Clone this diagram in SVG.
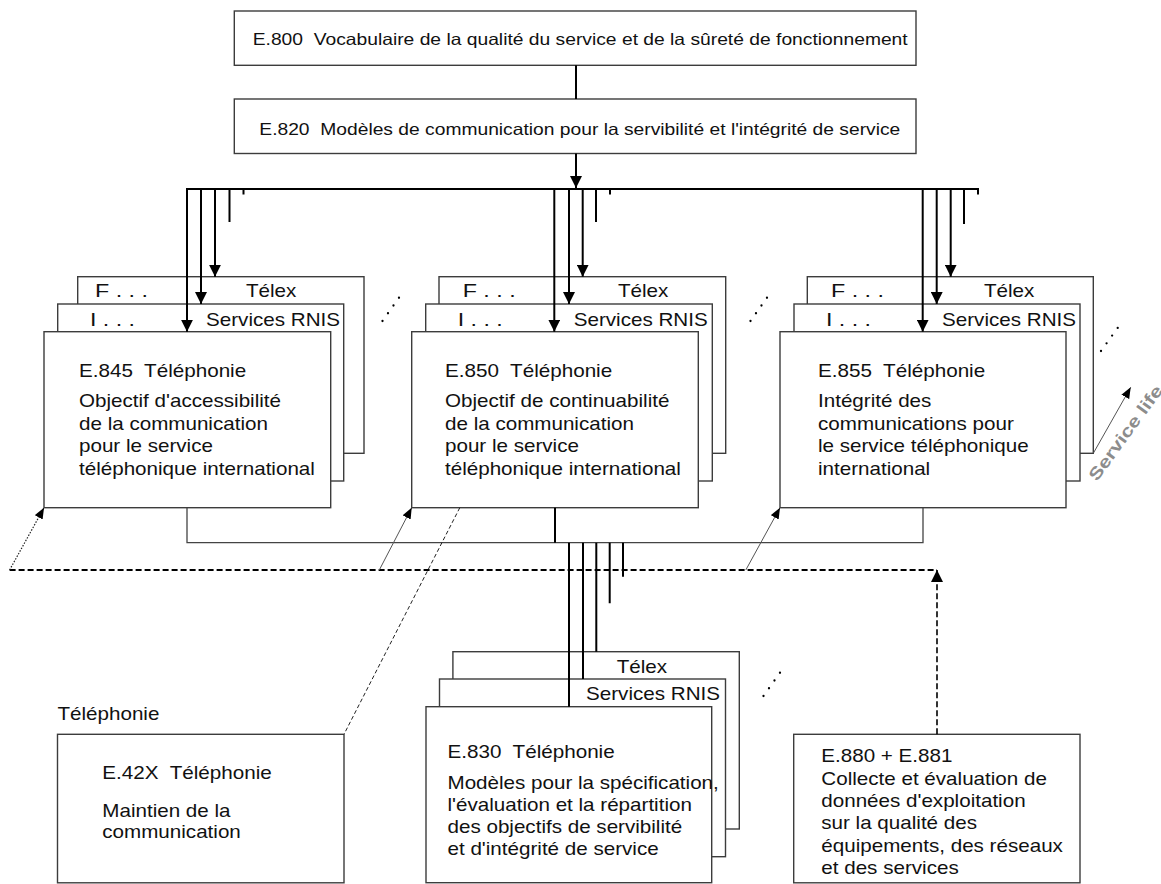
<svg xmlns="http://www.w3.org/2000/svg" width="1161" height="884" viewBox="0 0 1161 884">
<defs>
<style>
.box{fill:#fff;stroke:#3c3c3c;stroke-width:1.4}
text{font-family:"Liberation Sans",Arial,Helvetica,sans-serif;fill:#111;white-space:pre}
.t{font-size:18.5px}
.h{font-size:16.5px}
.k{stroke:#000;stroke-width:2;fill:none}
.n{stroke:#444;stroke-width:1.3;fill:none}
.d{stroke:#000;stroke-width:2;stroke-dasharray:6 3;fill:none}
.dv{stroke:#000;stroke-width:1.6;stroke-dasharray:6 3;fill:none}
.ln{stroke:#555;stroke-width:1;fill:none}
.dt{stroke:#222;stroke-width:1.2;stroke-dasharray:1.5 1.5;fill:none}
.dd{stroke:#222;stroke-width:1;stroke-dasharray:4 2.5;fill:none}
.dots{stroke:#000;stroke-width:2.3;stroke-linecap:round;stroke-dasharray:0 9.5;fill:none}
.sl{font-size:17px;font-weight:bold;fill:#8c8c8c}
</style>
<marker id="a" viewBox="0 0 12 12" refX="12" refY="6" markerWidth="12" markerHeight="12" markerUnits="userSpaceOnUse" orient="auto"><path d="M0,0L12,6L0,12z" fill="#000"/></marker>
<marker id="s" viewBox="0 0 11 9" refX="11" refY="4.5" markerWidth="11" markerHeight="9" markerUnits="userSpaceOnUse" orient="auto"><path d="M0,0L11,4.5L0,9z" fill="#000"/></marker>
</defs>
<g id="e800">
<rect class="box" x="234.3" y="11" width="681.7" height="54.3"/>
<text class="h" x="252.7" y="45" textLength="655" lengthAdjust="spacingAndGlyphs">E.800  Vocabulaire de la qualité du service et de la sûreté de fonctionnement</text>
</g>
<g id="e820">
<rect class="box" x="234.3" y="99" width="681.7" height="54.5"/>
<text class="h" x="259.3" y="135" textLength="641" lengthAdjust="spacingAndGlyphs">E.820  Modèles de communication pour la servibilité et l'intégrité de service</text>
</g>
<g id="e845">
<rect class="box" x="77.7" y="276.7" width="286.3" height="176.6"/>
<rect class="box" x="57.7" y="304" width="286" height="177"/>
<rect class="box" x="44" y="331.7" width="286.7" height="176"/>
<text class="t" x="95" y="297" textLength="53" lengthAdjust="spacingAndGlyphs">F . . .</text>
<text class="t" x="246" y="297" textLength="50.4" lengthAdjust="spacingAndGlyphs">Télex</text>
<text class="t" x="90" y="326" textLength="45" lengthAdjust="spacingAndGlyphs">I . . .</text>
<text class="t" x="206" y="326" textLength="134" lengthAdjust="spacingAndGlyphs">Services RNIS</text>
<text class="t" x="79" y="377" textLength="167.2" lengthAdjust="spacingAndGlyphs">E.845  Téléphonie</text>
<text class="t" x="79" y="407" textLength="202" lengthAdjust="spacingAndGlyphs">Objectif d'accessibilité</text>
<text class="t" x="79" y="429.5" textLength="188.9" lengthAdjust="spacingAndGlyphs">de la communication</text>
<text class="t" x="79" y="452" textLength="133.9" lengthAdjust="spacingAndGlyphs">pour le service</text>
<text class="t" x="79" y="474.5" textLength="235.9" lengthAdjust="spacingAndGlyphs">téléphonique international</text>
</g>
<g id="e850">
<rect class="box" x="439" y="276.7" width="286.7" height="176.6"/>
<rect class="box" x="425.7" y="304" width="286.6" height="177"/>
<rect class="box" x="411.7" y="331.7" width="286.6" height="176"/>
<text class="t" x="462.7" y="297" textLength="53" lengthAdjust="spacingAndGlyphs">F . . .</text>
<text class="t" x="618" y="297" textLength="50.4" lengthAdjust="spacingAndGlyphs">Télex</text>
<text class="t" x="457.7" y="326" textLength="45" lengthAdjust="spacingAndGlyphs">I . . .</text>
<text class="t" x="573.7" y="326" textLength="134" lengthAdjust="spacingAndGlyphs">Services RNIS</text>
<text class="t" x="445" y="377" textLength="167.2" lengthAdjust="spacingAndGlyphs">E.850  Téléphonie</text>
<text class="t" x="445" y="407" textLength="224.4" lengthAdjust="spacingAndGlyphs">Objectif de continuabilité</text>
<text class="t" x="445" y="429.5" textLength="188.9" lengthAdjust="spacingAndGlyphs">de la communication</text>
<text class="t" x="445" y="452" textLength="133.9" lengthAdjust="spacingAndGlyphs">pour le service</text>
<text class="t" x="445" y="474.5" textLength="235.9" lengthAdjust="spacingAndGlyphs">téléphonique international</text>
</g>
<g id="e855">
<rect class="box" x="807.3" y="276.7" width="286" height="176.6"/>
<rect class="box" x="794" y="304" width="286" height="177"/>
<rect class="box" x="780" y="331.7" width="286" height="176"/>
<text class="t" x="831" y="297" textLength="53" lengthAdjust="spacingAndGlyphs">F . . .</text>
<text class="t" x="984" y="297" textLength="50.4" lengthAdjust="spacingAndGlyphs">Télex</text>
<text class="t" x="826" y="326" textLength="45" lengthAdjust="spacingAndGlyphs">I . . .</text>
<text class="t" x="942" y="326" textLength="134" lengthAdjust="spacingAndGlyphs">Services RNIS</text>
<text class="t" x="818" y="377" textLength="167.2" lengthAdjust="spacingAndGlyphs">E.855  Téléphonie</text>
<text class="t" x="818" y="407" textLength="113.4" lengthAdjust="spacingAndGlyphs">Intégrité des</text>
<text class="t" x="818" y="429.5" textLength="195.8" lengthAdjust="spacingAndGlyphs">communications pour</text>
<text class="t" x="818" y="452" textLength="210.7" lengthAdjust="spacingAndGlyphs">le service téléphonique</text>
<text class="t" x="818" y="474.5" textLength="112.2" lengthAdjust="spacingAndGlyphs">international</text>
</g>
<g id="e830">
<rect class="box" x="452.9" y="651.7" width="286.4" height="177.3"/>
<rect class="box" x="439.5" y="679" width="286" height="177.7"/>
<rect class="box" x="426" y="706.7" width="285.7" height="176"/>
<text class="t" x="616.7" y="672.7" textLength="50.4" lengthAdjust="spacingAndGlyphs">Télex</text>
<text class="t" x="586" y="700" textLength="134" lengthAdjust="spacingAndGlyphs">Services RNIS</text>
<text class="t" x="447.5" y="758" textLength="167.2" lengthAdjust="spacingAndGlyphs">E.830  Téléphonie</text>
<text class="t" x="447.5" y="788.5" textLength="271.3" lengthAdjust="spacingAndGlyphs">Modèles pour la spécification,</text>
<text class="t" x="447.5" y="810.5" textLength="244.4" lengthAdjust="spacingAndGlyphs">l'évaluation et la répartition</text>
<text class="t" x="447.5" y="833" textLength="234.7" lengthAdjust="spacingAndGlyphs">des objectifs de servibilité</text>
<text class="t" x="447.5" y="855" textLength="211.2" lengthAdjust="spacingAndGlyphs">et d'intégrité de service</text>
</g>
<g id="e42x">
<text class="t" x="57.5" y="720" textLength="101.9" lengthAdjust="spacingAndGlyphs">Téléphonie</text>
<rect class="box" x="57.5" y="734.3" width="286.5" height="148.5"/>
<text class="t" x="102.3" y="778.5" textLength="169.5" lengthAdjust="spacingAndGlyphs">E.42X  Téléphonie</text>
<text class="t" x="102.3" y="816.7" textLength="128.2" lengthAdjust="spacingAndGlyphs">Maintien de la</text>
<text class="t" x="102.3" y="838.3" textLength="138.5" lengthAdjust="spacingAndGlyphs">communication</text>
</g>
<g id="e880">
<rect class="box" x="793.7" y="734.3" width="286.3" height="148.5"/>
<text class="t" x="821.3" y="761.7" textLength="131.1" lengthAdjust="spacingAndGlyphs">E.880 + E.881</text>
<text class="t" x="821.3" y="785" textLength="225.6" lengthAdjust="spacingAndGlyphs">Collecte et évaluation de</text>
<text class="t" x="821.3" y="807.3" textLength="204.3" lengthAdjust="spacingAndGlyphs">données d'exploitation</text>
<text class="t" x="821.3" y="829.3" textLength="155.7" lengthAdjust="spacingAndGlyphs">sur la qualité des</text>
<text class="t" x="821.3" y="851.7" textLength="241.6" lengthAdjust="spacingAndGlyphs">équipements, des réseaux</text>
<text class="t" x="821.3" y="874" textLength="137.4" lengthAdjust="spacingAndGlyphs">et des services</text>
</g>
<g id="service-life">
<text class="sl" x="1097" y="482" transform="rotate(-54 1097 482)" textLength="113" lengthAdjust="spacingAndGlyphs">Service life</text>
</g>
<g id="connectors">
<path class="k" d="M576,65.3V99"/>
<path class="k" d="M576,153.5V188" marker-end="url(#a)"/>
<path class="k" d="M186,189H979"/>
<path class="k" d="M187,189V331.7" marker-end="url(#a)"/>
<path class="k" d="M201,189V304" marker-end="url(#a)"/>
<path class="k" d="M215,189V276.7" marker-end="url(#a)"/>
<path class="k" d="M229.5,189V222M243.5,189V194.5"/>
<path class="k" d="M554.3,189V331.7" marker-end="url(#a)"/>
<path class="k" d="M569,189V304" marker-end="url(#a)"/>
<path class="k" d="M582.7,189V276.7" marker-end="url(#a)"/>
<path class="k" d="M596,189V222M610,189V194.5"/>
<path class="k" d="M922.7,189V331.7" marker-end="url(#a)"/>
<path class="k" d="M936.7,189V304" marker-end="url(#a)"/>
<path class="k" d="M950.7,189V276.7" marker-end="url(#a)"/>
<path class="k" d="M964,189V224M978,189V194.5"/>
<path class="n" d="M187,507.7V542.7H923V507.7"/>
<path class="k" d="M555,507.7V542.7"/>
<path class="k" d="M569,542.7V706.7M583,542.7V679M596.3,542.7V651.7M609.7,542.7V603.3M623,542.7V576.7"/>
<path class="d" d="M9.6,570H937"/>
<path class="dv" d="M937,734.3V570" marker-end="url(#a)"/>
<path class="dt" d="M9.6,570L44,507.7" marker-end="url(#s)"/>
<path class="ln" d="M379.3,570L411.7,507.7" marker-end="url(#s)"/>
<path class="ln" d="M745.8,570L780,507.7" marker-end="url(#s)"/>
<path class="dd" d="M459.8,507.7L344,734.3"/>
<path class="ln" d="M1093.3,453.3L1130.7,387.3" marker-end="url(#s)"/>
<path class="dots" d="M382.5,321L399.5,297"/>
<path class="dots" d="M750.5,321L767.5,297"/>
<path class="dots" d="M1101,351L1118,327.5"/>
<path class="dots" d="M763.5,696L780.5,672"/>
</g>
</svg>
